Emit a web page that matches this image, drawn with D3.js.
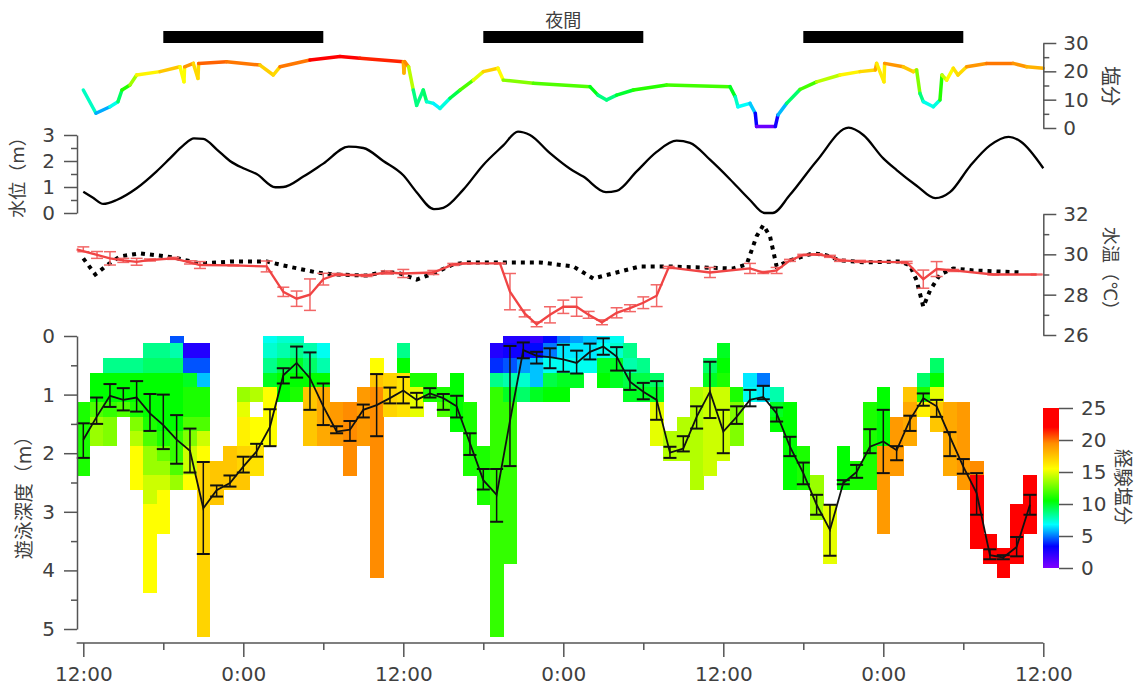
<!DOCTYPE html>
<html>
<head>
<meta charset="utf-8">
<script src="https://cdn.jsdelivr.net/npm/d3@7"></script>
<style>
body { margin: 0; background: #fff; }
text { font-family: "DejaVu Sans", "Noto Sans CJK JP", sans-serif; fill: #404040; }
</style>
</head>
<body>
<div id="root"></div>
<script>
const width = 1137;
const height = 690;

// hours from the first 12:00
const nightSpans = [[6, 18], [30, 42], [54, 66]];
const timeTicks = [0, 12, 24, 36, 48, 60, 72];
const timeTickLabels = ['12:00', '0:00', '12:00', '0:00', '12:00', '0:00', '12:00'];

// salinity trace [hour, salinity]
const salinityTrace = [
    [0, 13.4], [0.95, 5.2], [2.0, 7.5], [2.6, 9.3], [2.9, 13.4], [3.5, 15.2], [4.0, 18.7],
    [5.75, 19.9], [7.25, 21.6], [7.55, 16.3], [7.6, 21.6], [8.25, 22.8], [8.6, 17.5], [8.65, 22.8],
    [10.75, 23.4], [13.25, 22.2], [14.25, 18.7], [14.75, 21.6], [17.0, 24.0], [19.25, 25.2],
    [20.75, 24.6], [24.0, 23.4], [24.05, 19.4], [24.1, 23.4], [24.4, 21.6], [24.75, 13.4],
    [25.0, 8.0], [25.5, 13.4], [25.75, 9.3], [26.25, 8.7], [26.75, 6.9], [27.5, 10.5],
    [28.25, 13.4], [29.25, 16.9], [30.0, 19.9], [31.1, 21.1], [31.5, 16.9], [33.75, 15.8],
    [38.0, 14.6], [38.6, 11.6], [39.25, 9.9], [40.0, 11.6], [41.25, 13.4], [43.75, 15.2],
    [48.5, 14.6], [48.9, 11.0], [49.1, 7.5], [50.0, 8.7], [50.4, 5.2], [50.5, 0.5], [51.9, 0.5],
    [52.1, 4.6], [52.75, 8.7], [53.75, 13.6], [55.0, 16.3], [56.75, 18.7], [58.25, 19.9],
    [59.4, 20.5], [59.5, 22.8], [60.05, 16.3], [60.1, 22.8], [61.5, 21.6], [62.25, 19.9],
    [62.5, 20.5], [62.75, 12.2], [63.0, 9.3], [63.75, 7.5], [64.25, 9.9], [64.4, 18.7],
    [64.75, 16.9], [65.25, 21.1], [65.6, 18.7], [66.25, 21.6], [67.75, 22.8], [69.75, 22.8],
    [70.75, 21.6], [72.0, 21.1]
];

// water level [hour, m]
const waterLevel = [
    [0, 0.82], [0.7, 0.6], [1.5, 0.35], [2.5, 0.5], [4, 0.95], [5.5, 1.6], [6.5, 2.1], [7.5, 2.6],
    [8.3, 2.87], [9, 2.85], [10, 2.45], [11, 2.0], [12, 1.72], [13, 1.5], [14.4, 0.99], [15, 1.0],
    [16.5, 1.4], [18, 1.9], [19.9, 2.55], [21, 2.5], [22.5, 2.0], [24, 1.45], [25, 0.8],
    [26.3, 0.15], [27, 0.2], [28.5, 0.9], [30, 1.85], [31.5, 2.6], [32.6, 3.13], [33.5, 3.0],
    [35, 2.3], [36.5, 1.7], [37.5, 1.4], [39.2, 0.8], [40, 0.85], [41.5, 1.6], [43, 2.35],
    [44.5, 2.78], [45.5, 2.7], [47, 2.05], [48.5, 1.3], [50, 0.5], [51.1, 0.0], [51.7, 0.0],
    [53, 0.7], [55, 2.0], [57.4, 3.28], [58.5, 3.0], [60, 2.1], [61, 1.65], [62.5, 1.05],
    [63.9, 0.57], [65, 0.8], [66.5, 1.8], [68, 2.6], [69.4, 2.93], [70.3, 2.75], [72, 1.72]
];

// experienced water temperature [hour, mean, sd]
const fishTemp = [
    [0, 30.25, 0.12], [1.03, 29.97, 0.17], [2, 29.8, 0.33], [3, 29.7, 0.1], [4, 29.63, 0.17],
    [5, 29.72, 0.05], [6.75, 29.8, 0.05], [8, 29.6, 0.08], [8.75, 29.47, 0.17], [11.25, 29.45, 0.02],
    [13.75, 29.4, 0.27], [15, 28.14, 0.23], [16, 27.8, 0.38], [17, 28.0, 0.78], [18, 28.77, 0.29],
    [19, 29.0, 0.05], [21.25, 28.95, 0.05], [22.75, 29.1, 0.08], [24, 29.05, 0.2], [26.25, 29.1, 0.1],
    [27.75, 29.5, 0.05], [28.75, 29.55, 0.02], [31.25, 29.55, 0.02], [32, 28.15, 0.9],
    [33.1, 27.07, 0.17], [34, 26.53, 0.12], [35, 27.0, 0.4], [36, 27.4, 0.33], [37, 27.4, 0.47],
    [37.9, 27.0, 0.17], [38.9, 26.63, 0.12], [40, 27.1, 0.25], [41, 27.33, 0.17], [42, 27.6, 0.29],
    [43, 27.95, 0.54], [43.9, 29.35, 0.05], [47, 29.1, 0.25], [50, 29.3, 0.25], [51, 29.1, 0.05],
    [52, 29.2, 0.15], [53, 29.7, 0.05], [54, 29.97, 0.03], [55, 30.0, 0.03], [56, 29.9, 0.05],
    [56.75, 29.7, 0.05], [58.25, 29.65, 0.05], [61.75, 29.6, 0.05], [63, 28.77, 0.45],
    [64, 29.27, 0.37], [65.25, 29.2, 0.05], [68.25, 29.0, 0.02], [71.5, 29.0, 0.02]
];

// water temperature at the station [hour, °C]
const stationTemp = [
    [0, 29.8], [0.9, 29.0], [1.75, 29.45], [2.75, 29.9], [4.25, 30.05], [6.75, 29.85], [8.75, 29.55],
    [11.25, 29.65], [13.75, 29.65], [15, 29.45], [17.5, 29.1], [18.75, 29.0], [21.25, 28.95],
    [22.75, 29.15], [23.75, 29.05], [25, 28.75], [26.25, 29.05], [27.75, 29.5], [28.75, 29.6],
    [34.25, 29.6], [36.75, 29.4], [38.25, 28.8], [40, 29.1], [41.75, 29.4], [43.75, 29.4],
    [48.75, 29.3], [49.75, 29.5], [50.5, 30.9], [51, 31.45], [51.5, 30.9], [52, 29.4], [53, 29.7],
    [54.75, 30.05], [55.75, 29.95], [56.75, 29.7], [58.75, 29.6], [61.25, 29.65], [62, 29.45],
    [62.5, 28.7], [63, 27.4], [63.5, 28.2], [64.25, 29.0], [65.25, 29.3], [66.75, 29.2], [70.5, 29.1]
];

// hourly swimming depth [hour, mean, low, high]
const depthMean = [
    [0, 1.77, 1.49, 2.08], [1, 1.38, 1.05, 1.5], [2, 1.02, 0.82, 1.21], [3, 1.09, 0.89, 1.27],
    [4, 1.05, 0.77, 1.29], [5, 1.32, 0.99, 1.62], [6, 1.52, 1.0, 1.93], [7, 1.77, 1.35, 2.18],
    [8, 1.96, 1.58, 2.33], [9, 2.94, 2.15, 3.72], [10, 2.63, 2.55, 2.74], [11, 2.51, 2.38, 2.57],
    [12, 2.23, 2.06, 2.33], [13, 1.97, 1.84, 2.06], [14, 1.55, 1.25, 1.88], [15, 0.67, 0.55, 0.81],
    [16, 0.46, 0.18, 0.71], [17, 0.72, 0.28, 1.26], [18, 1.2, 0.81, 1.52], [19, 1.63, 1.54, 1.66],
    [20, 1.6, 1.45, 1.79], [21, 1.26, 1.17, 1.39], [22, 1.18, 0.65, 1.71], [23, 1.06, 0.88, 1.15],
    [24, 0.93, 0.7, 1.15], [25, 1.09, 0.97, 1.22], [26, 0.98, 0.89, 1.05], [27, 1.06, 0.99, 1.26],
    [28, 1.2, 1.02, 1.39], [29, 1.83, 1.66, 2.03], [30, 2.46, 2.27, 2.62], [31, 2.71, 2.27, 3.17],
    [32, 1.45, 0.17, 2.22], [33, 0.24, 0.11, 0.38], [34, 0.34, 0.27, 0.47], [35, 0.36, 0.21, 0.55],
    [36, 0.4, 0.15, 0.61], [37, 0.46, 0.25, 0.64], [38, 0.27, 0.13, 0.4], [39, 0.18, 0.04, 0.32],
    [40, 0.35, 0.19, 0.59], [41, 0.78, 0.59, 0.92], [42, 0.95, 0.8, 1.08], [43, 1.09, 0.77, 1.43],
    [44, 1.99, 1.89, 2.08], [45, 1.92, 1.71, 1.97], [46, 1.38, 1.2, 1.58], [47, 0.95, 0.44, 1.4],
    [48, 1.63, 1.26, 2.0], [49, 1.38, 1.2, 1.5], [50, 1.09, 0.92, 1.2], [51, 1.04, 0.85, 1.08],
    [52, 1.32, 1.22, 1.46], [53, 1.89, 1.72, 2.05], [54, 2.34, 2.16, 2.53], [55, 2.88, 2.71, 3.05],
    [56, 3.31, 2.88, 3.75], [57, 2.51, 2.46, 2.53], [58, 2.32, 2.2, 2.42], [59, 1.89, 1.59, 2.0],
    [60, 1.8, 1.26, 2.34], [61, 1.95, 1.88, 2.12], [62, 1.43, 1.36, 1.62], [63, 1.06, 0.98, 1.19],
    [64, 1.2, 1.09, 1.38], [65, 1.72, 1.64, 2.05], [66, 2.23, 2.1, 2.35], [67, 2.68, 2.34, 3.05],
    [68, 3.74, 3.64, 3.81], [69, 3.78, 3.74, 3.81], [70, 3.6, 3.43, 3.76], [71, 2.88, 2.71, 3.05]
];

// experienced salinity per hour and 0.25 m depth bin: [hour, fromDepth, toDepth, salinity]
const depthCells = [
    [0, 1.25, 2.25, 11],
    [1, 0.75, 1.0, 10.5], [1, 1.25, 1.25, 12], [1, 1.5, 1.75, 13.5],
    [2, 0.5, 0.5, 8.5], [2, 0.75, 1.0, 10.5], [2, 1.25, 1.25, 11.5], [2, 1.5, 1.75, 13],
    [3, 0.5, 0.5, 8.5], [3, 0.75, 1.0, 10.5], [3, 1.25, 1.25, 12],
    [4, 0.5, 0.5, 8.5], [4, 0.75, 1.0, 10.5], [4, 1.25, 1.25, 11], [4, 1.5, 1.5, 13], [4, 1.75, 1.75, 14], [4, 2.0, 2.5, 15.5],
    [5, 0.25, 0.25, 8.5], [5, 0.5, 0.5, 9], [5, 0.75, 1.25, 10.5], [5, 1.5, 1.5, 11], [5, 1.75, 1.75, 12], [5, 2.0, 2.25, 13.5], [5, 2.5, 2.75, 14.5], [5, 3.0, 4.25, 15.5],
    [6, 0.25, 0.25, 8.5], [6, 0.5, 0.5, 9], [6, 0.75, 1.5, 10.5], [6, 1.75, 1.75, 11], [6, 2.0, 2.0, 12.5], [6, 2.25, 2.25, 13.5], [6, 2.5, 2.5, 14.5], [6, 2.75, 3.25, 15.5],
    [7, 0, 0, 4.5], [7, 0.25, 0.25, 8], [7, 0.5, 0.5, 9], [7, 0.75, 1.5, 10.5], [7, 1.75, 2.0, 11.5], [7, 2.25, 2.25, 12], [7, 2.5, 2.5, 13.5],
    [8, 0.25, 0.25, 2.5], [8, 0.5, 0.5, 4.5], [8, 0.75, 0.75, 10], [8, 1.0, 1.25, 11], [8, 1.5, 1.5, 12], [8, 1.75, 1.75, 13], [8, 2.0, 2.25, 14.5], [8, 2.5, 2.5, 15.5],
    [9, 0.25, 0.25, 2.5], [9, 0.5, 0.5, 4.5], [9, 0.75, 0.75, 6], [9, 1.0, 1.25, 11], [9, 1.5, 1.5, 12], [9, 1.75, 1.75, 14.5], [9, 2.0, 2.0, 15.5], [9, 2.25, 5.0, 17],
    [10, 2.25, 2.75, 17.5],
    [11, 2.0, 2.5, 17.5],
    [12, 1.0, 1.0, 13.5], [12, 1.25, 1.25, 15], [12, 1.5, 1.75, 16], [12, 2.0, 2.25, 17], [12, 2.5, 2.5, 17.5],
    [13, 1.0, 1.0, 14], [13, 1.5, 1.75, 15.5], [13, 2.0, 2.25, 16.5],
    [14, 0, 0, 7], [14, 0.25, 0.25, 7.5], [14, 0.5, 0.5, 8.5], [14, 0.75, 0.75, 10], [14, 1.0, 1.75, 15.5],
    [15, 0, 0, 7.5], [15, 0.25, 0.25, 8], [15, 0.5, 0.5, 9.5], [15, 0.75, 1.0, 10.5],
    [16, 0, 0, 7.5], [16, 0.25, 0.25, 8.5], [16, 0.5, 0.5, 10], [16, 0.75, 0.75, 10.5], [16, 1.0, 1.0, 11],
    [17, 0.25, 0.25, 8], [17, 0.5, 0.5, 9], [17, 0.75, 0.75, 10.5], [17, 1.0, 1.75, 17.5],
    [18, 0.25, 0.25, 7], [18, 0.5, 0.5, 8], [18, 0.75, 0.75, 10.5], [18, 1.0, 1.75, 18.5],
    [19, 1.25, 1.75, 19],
    [20, 1.25, 2.25, 19.5],
    [21, 1.0, 1.75, 19],
    [22, 0.5, 0.5, 15.5], [22, 0.75, 0.75, 17.5], [22, 1.0, 4.0, 19.5],
    [23, 0.75, 1.25, 17],
    [24, 0.25, 0.25, 8.5], [24, 0.5, 0.5, 10.5], [24, 0.75, 1.25, 16.5],
    [25, 0.75, 0.75, 11], [25, 1.0, 1.25, 15],
    [26, 0.75, 1.0, 11],
    [27, 1.0, 1.0, 11], [27, 1.25, 1.25, 12],
    [28, 0.75, 1.5, 10.5],
    [29, 1.25, 2.25, 11],
    [30, 2.0, 2.75, 11],
    [31, 0.25, 0.25, 2.5], [31, 0.5, 0.5, 4], [31, 0.75, 0.75, 8.5], [31, 1.0, 5.0, 11.5],
    [32, 0, 0, 2.5], [32, 0.25, 0.25, 3], [32, 0.5, 0.5, 4.5], [32, 0.75, 0.75, 8], [32, 1.0, 1.0, 10], [32, 1.25, 3.75, 11.5],
    [33, 0, 0, 2.5], [33, 0.25, 0.25, 3], [33, 0.5, 0.5, 5.5], [33, 0.75, 0.75, 7.5], [33, 1.0, 1.0, 9],
    [34, 0, 0, 2], [34, 0.25, 0.25, 3.5], [34, 0.5, 0.75, 6], [34, 1.0, 1.0, 10],
    [35, 0, 0, 3.5], [35, 0.25, 0.25, 5], [35, 0.5, 0.5, 7], [35, 0.75, 0.75, 9.5], [35, 1.0, 1.0, 10.5],
    [36, 0, 0, 5], [36, 0.25, 0.25, 6.5], [36, 0.5, 0.5, 7], [36, 0.75, 0.75, 10], [36, 1.0, 1.0, 10.5],
    [37, 0, 0, 5.5], [37, 0.25, 0.25, 6.5], [37, 0.5, 0.5, 7], [37, 0.75, 0.75, 10],
    [38, 0, 0, 6], [38, 0.25, 0.25, 6.5], [38, 0.5, 0.5, 7],
    [39, 0, 0, 6.5], [39, 0.25, 0.25, 7], [39, 0.5, 0.5, 10], [39, 0.75, 0.75, 10.5],
    [40, 0, 0, 7], [40, 0.25, 0.25, 7.5], [40, 0.5, 0.75, 10],
    [41, 0.25, 0.25, 8.5], [41, 0.5, 0.5, 8], [41, 0.75, 0.75, 9.5], [41, 1.0, 1.0, 10],
    [42, 0.5, 0.5, 8.5], [42, 0.75, 0.75, 9.5], [42, 1.0, 1.0, 10],
    [43, 0.75, 0.75, 9], [43, 1.0, 1.0, 10], [43, 1.25, 1.75, 15],
    [44, 1.75, 2.0, 14],
    [45, 1.5, 2.0, 14],
    [46, 1.0, 2.5, 14],
    [47, 0.5, 0.5, 9], [47, 0.75, 0.75, 10], [47, 1.0, 2.25, 14.5],
    [48, 0.25, 0.25, 10], [48, 0.5, 0.5, 10.5], [48, 0.75, 0.75, 11], [48, 1.0, 2.0, 14.5],
    [49, 1.0, 1.0, 11], [49, 1.25, 1.75, 13],
    [50, 0.75, 0.75, 6.5], [50, 1.0, 1.0, 7],
    [51, 0.75, 0.75, 5], [51, 1.0, 1.0, 6.5],
    [52, 1.0, 1.0, 8], [52, 1.25, 1.25, 10], [52, 1.5, 1.5, 10.5],
    [53, 1.25, 2.5, 10.5],
    [54, 2.0, 2.5, 11],
    [55, 2.5, 3.0, 13.5],
    [56, 3.0, 3.75, 15],
    [57, 2.0, 2.5, 10.5],
    [58, 2.25, 2.5, 11],
    [59, 1.25, 2.5, 11],
    [60, 1.0, 1.75, 10.5], [60, 2.0, 3.25, 19],
    [61, 1.5, 2.25, 19],
    [62, 1.0, 1.0, 17.5], [62, 1.25, 1.75, 18.5],
    [63, 0.75, 0.75, 9], [63, 1.0, 1.0, 11], [63, 1.25, 1.25, 16],
    [64, 0.5, 0.5, 9], [64, 0.75, 0.75, 10.5], [64, 1.0, 1.0, 15], [64, 1.25, 1.5, 17.5],
    [65, 1.25, 2.25, 18.5],
    [66, 1.25, 2.5, 19],
    [67, 2.25, 2.25, 19.5], [67, 2.5, 3.5, 23],
    [68, 3.5, 3.75, 23],
    [69, 3.75, 4.0, 24],
    [70, 3.0, 3.75, 23.5],
    [71, 2.5, 3.25, 23]
];

const colorStops = [0, 3.4, 6.8, 10.5, 15.5, 19.5, 22, 25];
const traceColorStops = [0, 3, 8, 13.5, 19, 22.5, 24.5, 30];
const colorRange = ['#7f00ff', '#0000ff', '#00ffff', '#00ff00', '#ffff00', '#ff8c00', '#ff0000', '#ff0000'];
const salColor = d3.scaleLinear().domain(colorStops).range(colorRange).clamp(true);
const traceColor = d3.scaleLinear().domain(traceColorStops).range(colorRange).clamp(true);

const x = d3.scaleLinear().domain([0, 72]).range([83.3, 1043.3]);
const ySal = d3.scaleLinear().domain([0, 30]).range([128, 43]);
const yLevel = d3.scaleLinear().domain([0, 3]).range([213, 135]);
const yTemp = d3.scaleLinear().domain([26, 32]).range([335, 214]);
const yDepth = d3.scaleLinear().domain([0, 5]).range([336, 629]);
const yBar = d3.scaleLinear().domain([0, 25]).range([568, 408]);

const AXIS = '#555';

const svg = d3.select('#root')
    .append('svg')
    .attr('width', width)
    .attr('height', height);

// styles an axis group
const styleAxis = g => {
    g.selectAll('.domain').attr('stroke', AXIS).attr('stroke-width', 1.5);
    g.selectAll('.tick line').attr('stroke', AXIS).attr('stroke-width', 1.5);
    g.selectAll('.tick text').style('font-size', '20px').attr('fill', '#404040');
};

function yAxis(scale, side, xPos, major, minor) {
    const make = side === 'left' ? d3.axisLeft : d3.axisRight;
    svg.append('g')
        .attr('transform', `translate(${xPos},0)`)
        .call(make(scale).tickValues(minor).tickSize(6).tickSizeOuter(0).tickFormat(''))
        .call(styleAxis);
    svg.append('g')
        .attr('transform', `translate(${xPos},0)`)
        .call(make(scale).tickValues(major).tickSize(13).tickSizeOuter(0).tickPadding(side === 'left' ? 9 : 7).tickFormat(d3.format('d')))
        .call(styleAxis)
        .call(g => g.select('.domain').remove());
}

// night bars
svg.append('g')
    .selectAll('rect')
    .data(nightSpans)
    .join('rect')
    .attr('x', d => x(d[0]))
    .attr('width', d => x(d[1]) - x(d[0]))
    .attr('y', 31)
    .attr('height', 12)
    .attr('fill', '#000');

svg.append('text')
    .attr('x', x(36))
    .attr('y', 27)
    .attr('text-anchor', 'middle')
    .style('font-size', '18px')
    .text('夜間');

// salinity trace, coloured by value
const salSegs = d3.pairs(salinityTrace);
svg.append('g')
    .selectAll('line')
    .data(salSegs)
    .join('line')
    .attr('x1', d => x(d[0][0]))
    .attr('y1', d => ySal(d[0][1]))
    .attr('x2', d => x(d[1][0]))
    .attr('y2', d => ySal(d[1][1]))
    .attr('stroke', d => traceColor((d[0][1] + d[1][1]) / 2))
    .attr('stroke-width', 3.5)
    .attr('stroke-linecap', 'round');

yAxis(ySal, 'right', 1043.3, [0, 10, 20, 30], [5, 15, 25]);

// water level
svg.append('path')
    .datum(waterLevel)
    .attr('fill', 'none')
    .attr('stroke', '#000')
    .attr('stroke-width', 2.3)
    .attr('d', d3.line().x(d => x(d[0])).y(d => yLevel(d[1])).curve(d3.curveMonotoneX));

yAxis(yLevel, 'left', 77, [0, 1, 2, 3], [0.5, 1.5, 2.5]);

// water temperature
svg.append('path')
    .datum(stationTemp)
    .attr('fill', 'none')
    .attr('stroke', '#000')
    .attr('stroke-width', 4)
    .attr('stroke-dasharray', '4,5')
    .attr('d', d3.line().x(d => x(d[0])).y(d => yTemp(d[1])));

const tempBars = svg.append('g')
    .attr('stroke', '#f26666')
    .attr('stroke-width', 1.5);
tempBars.selectAll('line.v')
    .data(fishTemp)
    .join('line')
    .attr('class', 'v')
    .attr('x1', d => x(d[0])).attr('x2', d => x(d[0]))
    .attr('y1', d => yTemp(d[1] - d[2])).attr('y2', d => yTemp(d[1] + d[2]));
[-1, 1].forEach(s => {
    tempBars.selectAll(`line.c${s}`)
        .data(fishTemp)
        .join('line')
        .attr('class', `c${s}`)
        .attr('x1', d => x(d[0]) - 6).attr('x2', d => x(d[0]) + 6)
        .attr('y1', d => yTemp(d[1] + s * d[2])).attr('y2', d => yTemp(d[1] + s * d[2]));
});
svg.append('path')
    .datum(fishTemp)
    .attr('fill', 'none')
    .attr('stroke', '#f04444')
    .attr('stroke-width', 2.3)
    .attr('d', d3.line().x(d => x(d[0] === 0 ? -0.5 : d[0])).y(d => yTemp(d[1])));

yAxis(yTemp, 'right', 1043.3, [26, 28, 30, 32], [27, 29, 31]);

// depth / salinity heat map
svg.append('g')
    .attr('shape-rendering', 'crispEdges')
    .selectAll('rect')
    .data(depthCells)
    .join('rect')
    .attr('x', d => x(d[0] - 0.5))
    .attr('width', d => x(d[0] + 0.5) - x(d[0] - 0.5) + 0.5)
    .attr('y', d => yDepth(Math.max(0, d[1] - 0.125)))
    .attr('height', d => yDepth(d[2] + 0.125) - yDepth(Math.max(0, d[1] - 0.125)) + 0.5)
    .attr('fill', d => salColor(d[3]));

const depthBars = svg.append('g')
    .attr('stroke', '#111')
    .attr('stroke-width', 2);
depthBars.selectAll('line.v')
    .data(depthMean)
    .join('line')
    .attr('class', 'v')
    .attr('stroke-width', 1.5)
    .attr('x1', d => x(d[0])).attr('x2', d => x(d[0]))
    .attr('y1', d => yDepth(d[2])).attr('y2', d => yDepth(d[3]));
[2, 3].forEach(k => {
    depthBars.selectAll(`line.c${k}`)
        .data(depthMean)
        .join('line')
        .attr('class', `c${k}`)
        .attr('x1', d => x(d[0]) - 6.5).attr('x2', d => x(d[0]) + 6.5)
        .attr('y1', d => yDepth(d[k])).attr('y2', d => yDepth(d[k]));
});
svg.append('path')
    .datum(depthMean)
    .attr('fill', 'none')
    .attr('stroke', '#111')
    .attr('stroke-width', 1.8)
    .attr('d', d3.line().x(d => x(d[0])).y(d => yDepth(d[1])));

yAxis(yDepth, 'left', 77, [0, 1, 2, 3, 4, 5], [0.5, 1.5, 2.5, 3.5, 4.5]);

// time axis
const xAxisG = svg.append('g').attr('transform', 'translate(0,643)');
xAxisG.append('g')
    .call(d3.axisBottom(x).tickValues([6, 18, 30, 42, 54, 66]).tickSize(7).tickSizeOuter(0).tickFormat(''))
    .call(styleAxis)
    .call(g => g.select('.domain').remove());
xAxisG.append('g')
    .call(d3.axisBottom(x).tickValues(timeTicks).tickSize(14).tickSizeOuter(0).tickPadding(10)
        .tickFormat((d, i) => timeTickLabels[i]))
    .call(styleAxis)
    .call(g => g.select('.domain').remove());
xAxisG.append('line')
    .attr('x1', x(-0.5)).attr('x2', x(72))
    .attr('stroke', AXIS).attr('stroke-width', 1.5);

// colour bar
const grad = svg.append('defs').append('linearGradient')
    .attr('id', 'salGrad')
    .attr('x1', 0).attr('y1', 1).attr('x2', 0).attr('y2', 0);
grad.selectAll('stop')
    .data(colorStops)
    .join('stop')
    .attr('offset', d => d / 25)
    .attr('stop-color', d => salColor(d));
svg.append('rect')
    .attr('x', 1043)
    .attr('y', yBar(25))
    .attr('width', 16)
    .attr('height', yBar(0) - yBar(25))
    .attr('fill', 'url(#salGrad)');
svg.append('g')
    .attr('transform', 'translate(1059,0)')
    .call(d3.axisRight(yBar).tickValues([0, 5, 10, 15, 20, 25]).tickSize(14).tickSizeOuter(0).tickPadding(8))
    .call(styleAxis)
    .call(g => g.select('.domain').remove());

// axis titles
const titles = [
    ['塩分', 1110, 86, 90, 20],
    ['水温（℃）', 1110, 273, 90, 18],
    ['経験塩分', 1123, 487, 90, 19],
    ['水位（m）', 17, 173, -90, 18],
    ['遊泳深度（m）', 24, 493, -90, 19]
];
svg.append('g')
    .selectAll('text')
    .data(titles)
    .join('text')
    .attr('transform', d => `translate(${d[1]},${d[2]}) rotate(${d[3]})`)
    .attr('text-anchor', 'middle')
    .attr('dominant-baseline', 'central')
    .style('font-size', d => `${d[4]}px`)
    .text(d => d[0]);
</script>
</body>
</html>
